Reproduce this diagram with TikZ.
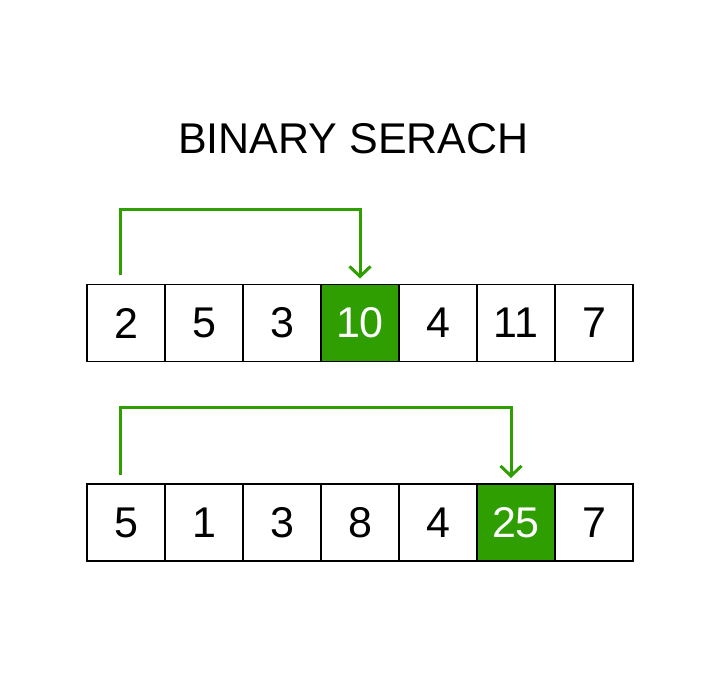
\documentclass[tikz,border=0pt]{standalone}
\usepackage{fontspec}
\setmainfont{Liberation Sans}
\usetikzlibrary{arrows.meta}
\usetikzlibrary{positioning}

\definecolor{hitgreen}{HTML}{2F9E00}

\begin{document}
\begin{tikzpicture}[x=1pt,y=1pt,
    cell/.style={draw, line width=1.5pt, minimum width=78pt, minimum height=77pt,
                 inner sep=0pt, outer sep=0pt, font=\fontsize{43}{43}\selectfont},
    hit/.style={cell, fill=hitgreen, text=white},
    jump/.style={draw=hitgreen, line width=3pt,
                 -{Straight Barb[length=10pt,width=21pt,line width=3pt]}}]
  \useasboundingbox (0,0) rectangle (720,686);

  \node [anchor=base, font=\fontsize{43}{43}\selectfont] (title) at (353.5,532) {BINARY SERACH};

  % first array
  \node [cell] (a1) at (126,363) {2};
  \foreach \v/\s [count=\i from 2] in {5/cell,3/cell,10/hit,4/cell,11/cell,7/cell} {
    \pgfmathtruncatemacro{\p}{\i-1}
    \node [\s, right=0pt of a\p] (a\i) {\v};
  }

  % second array
  \node [cell] (b1) at (126,163.5) {5};
  \foreach \v/\s [count=\i from 2] in {1/cell,3/cell,8/cell,4/cell,25/hit,7/cell} {
    \pgfmathtruncatemacro{\p}{\i-1}
    \node [\s, right=0pt of b\p] (b\i) {\v};
  }

  \draw [jump] ([xshift=-6pt,yshift=9pt]a1.north) -- ++(0,66) -| ([yshift=6pt]a4.north);
  \draw [jump] ([xshift=-6pt,yshift=9pt]b1.north) -- ++(0,67) -| ([xshift=-5pt,yshift=6pt]b6.north);

\end{tikzpicture}
\end{document}
